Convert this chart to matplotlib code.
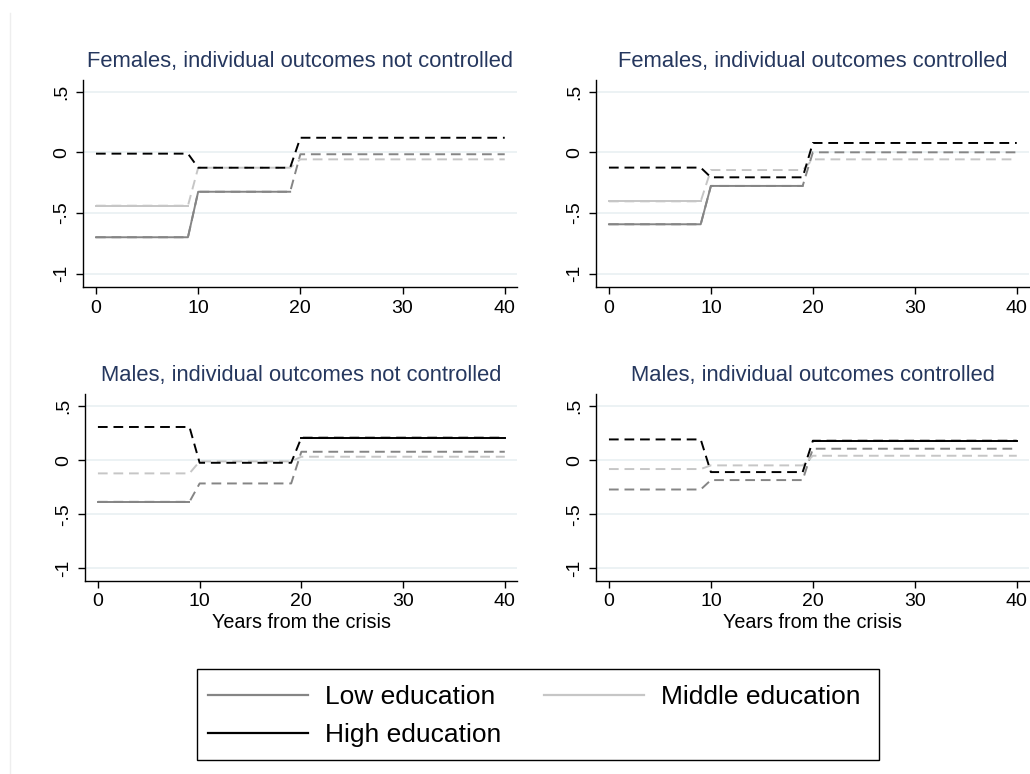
import numpy as np
import matplotlib
matplotlib.use("Agg")
import matplotlib.pyplot as plt
from matplotlib.lines import Line2D
from matplotlib.patches import Rectangle

plt.rcParams["font.family"] = ["Liberation Sans", "DejaVu Sans"]

# step points: period 1 = 0-9, period 2 = 10-19, period 3 = 20-40
x_pts = [0, 9, 10, 19, 20, 40]
x_period = [0, 0, 1, 1, 2, 2]

titles = [
    "Females, individual outcomes not controlled",
    "Females, individual outcomes controlled",
    "Males, individual outcomes not controlled",
    "Males, individual outcomes controlled",
]
groups = ["Low education", "Middle education", "High education"]
colors = ["#858585", "#c6c6c6", "#000000"]

# coefficient per period (0-9, 10-19, 20-40), one list per education group
fem_nc = [[-0.70, -0.325, -0.016], [-0.44, -0.127, -0.058], [-0.011, -0.127, 0.12]]
fem_c = [[-0.593, -0.277, 0.0], [-0.404, -0.146, -0.058], [-0.126, -0.206, 0.077]]
mal_nc = [[-0.386, -0.216, 0.077], [-0.123, -0.012, 0.031], [0.306, -0.025, 0.207]]
mal_c = [[-0.272, -0.185, 0.105], [-0.083, -0.049, 0.040], [0.191, -0.111, 0.179]]

# significance per period (solid line where significant)
fem_nc_sig = [[1, 1, 0], [1, 0, 0], [0, 0, 0]]
fem_c_sig = [[1, 1, 0], [1, 0, 0], [0, 0, 0]]
mal_nc_sig = [[1, 0, 0], [0, 0, 0], [0, 0, 1]]
mal_c_sig = [[0, 0, 0], [0, 0, 0], [0, 0, 1]]

panels = [(fem_nc, fem_nc_sig), (fem_c, fem_c_sig), (mal_nc, mal_nc_sig), (mal_c, mal_c_sig)]

W, H = 1030, 774
fig = plt.figure(figsize=(W / 100, H / 100), dpi=100)
fig.patch.set_facecolor("white")

# axes boxes in pixels: left, top, right, bottom
boxes = [(83, 80, 517, 287), (596, 80, 1029, 287), (85, 394, 517, 581), (596, 394, 1029, 581)]
ylims = [(-1.11, 0.596), (-1.11, 0.596), (-1.118, 0.611), (-1.118, 0.611)]

title_color = "#25375e"

for i, (vals, sig) in enumerate(panels):
    l, t, r, b = boxes[i]
    ax = fig.add_axes([l / W, 1 - b / H, (r - l) / W, (b - t) / H])
    for yg in [0.5, 0, -0.5, -1]:
        ax.axhline(yg, color="#eaf1f3", lw=1.3, zorder=0)
    for g in range(3):
        y = [vals[g][p] for p in x_period]
        ys = [vals[g][p] if sig[g][p] else np.nan for p in x_period]
        ax.plot(x_pts, y, color=colors[g], lw=1.4, dashes=(5, 3), zorder=2 + g)
        ax.plot(x_pts, ys, color=colors[g], lw=1.4, zorder=2 + g)
    ax.set_xlim(-1.27, 41.2)
    ax.set_ylim(*ylims[i])
    ax.set_xticks([0, 10, 20, 30, 40])
    ax.set_yticks([-1, -0.5, 0, 0.5])
    ax.set_yticklabels(["-1", "-.5", "0", ".5"], rotation=90, va="center")
    ax.tick_params(labelsize=14, length=5, width=1, direction="out", pad=4)
    for s in ["top", "right"]:
        ax.spines[s].set_visible(False)
    for s in ["left", "bottom"]:
        ax.spines[s].set_linewidth(1.0)
    ax.set_title(titles[i], fontsize=15.8, color=title_color, pad=9)
    if i >= 2:
        ax.set_xlabel("Years from the crisis", fontsize=14.2, labelpad=2)

handles = [Line2D([], [], color=c, lw=1.6) for c in colors]
order = [0, 2, 1]
leg = fig.legend(
    [handles[k] for k in order],
    [groups[k] for k in order],
    ncol=2,
    loc="center left",
    bbox_to_anchor=(208 / W, 1 - 716 / H),
    borderaxespad=0,
    borderpad=0,
    fontsize=19,
    frameon=False,
    handlelength=3.8,
    handletextpad=0.65,
    columnspacing=1.6,
    labelspacing=0.53,
)

# legend frame
fig.add_artist(Rectangle((197 / W, 1 - 760 / H), (879 - 197) / W, (760 - 669) / H,
                         transform=fig.transFigure, fill=False, edgecolor="black", lw=1.0))

# faint outer frame line on the left
fig.add_artist(Line2D([10 / W, 10 / W], [0, 1 - 13 / H], color="#eeeeee", lw=1))

fig.savefig("out.png", dpi=100)
